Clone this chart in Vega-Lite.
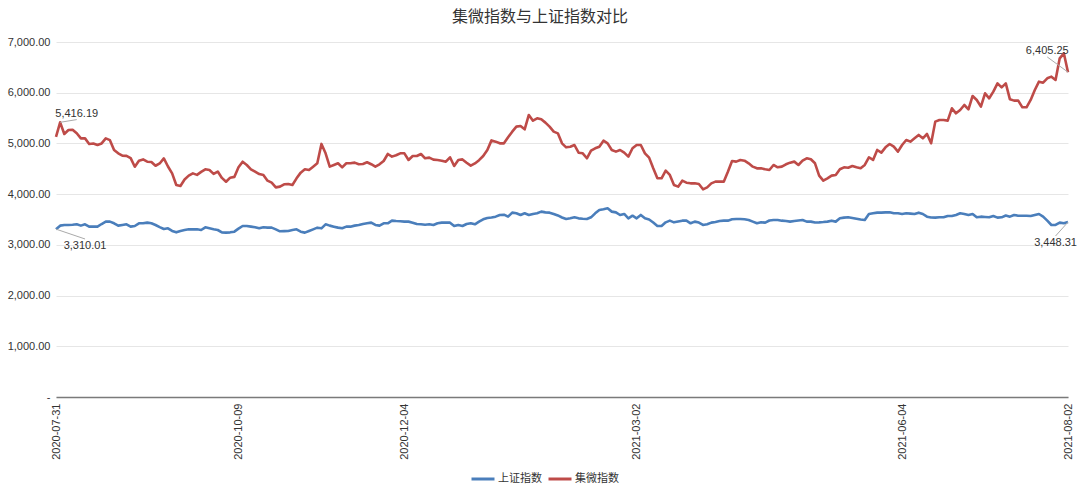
{
  "$schema": "https://vega.github.io/schema/vega-lite/v6.json",
  "width": 1012,
  "height": 355,
  "autosize": {"type": "none"},
  "padding": {"left": 56, "top": 42, "right": 12, "bottom": 96},
  "background": "white",
  "config": {"view": {"stroke": null}, "font": "Liberation Sans"},
  "title": {
    "text": "集微指数与上证指数对比",
    "font": "Noto Sans CJK SC",
    "fontSize": 16,
    "fontWeight": "normal",
    "color": "#333333",
    "anchor": "middle",
    "offset": 11,
    "dx": -22
  },
  "datasets": {
    "daily": [
      {"d": "2020-07-31", "sh": 3310.01, "jw": 5130},
      {"d": "2020-08-03", "sh": 3379, "jw": 5416.19},
      {"d": "2020-08-04", "sh": 3392, "jw": 5186},
      {"d": "2020-08-05", "sh": 3392, "jw": 5265},
      {"d": "2020-08-06", "sh": 3395, "jw": 5270},
      {"d": "2020-08-07", "sh": 3405, "jw": 5200},
      {"d": "2020-08-10", "sh": 3379, "jw": 5100},
      {"d": "2020-08-11", "sh": 3405, "jw": 5100},
      {"d": "2020-08-12", "sh": 3359, "jw": 4990},
      {"d": "2020-08-13", "sh": 3360, "jw": 5000},
      {"d": "2020-08-14", "sh": 3359, "jw": 4970},
      {"d": "2020-08-17", "sh": 3411, "jw": 5000},
      {"d": "2020-08-18", "sh": 3458, "jw": 5100},
      {"d": "2020-08-19", "sh": 3458, "jw": 5065},
      {"d": "2020-08-20", "sh": 3425, "jw": 4870},
      {"d": "2020-08-21", "sh": 3379, "jw": 4805},
      {"d": "2020-08-24", "sh": 3392, "jw": 4760},
      {"d": "2020-08-25", "sh": 3405, "jw": 4755},
      {"d": "2020-08-26", "sh": 3359, "jw": 4710},
      {"d": "2020-08-27", "sh": 3372, "jw": 4540},
      {"d": "2020-08-28", "sh": 3425, "jw": 4660},
      {"d": "2020-08-31", "sh": 3425, "jw": 4685},
      {"d": "2020-09-01", "sh": 3438, "jw": 4640},
      {"d": "2020-09-02", "sh": 3425, "jw": 4635},
      {"d": "2020-09-03", "sh": 3392, "jw": 4560},
      {"d": "2020-09-04", "sh": 3350, "jw": 4605},
      {"d": "2020-09-07", "sh": 3313, "jw": 4705},
      {"d": "2020-09-08", "sh": 3326, "jw": 4545},
      {"d": "2020-09-09", "sh": 3274, "jw": 4410},
      {"d": "2020-09-10", "sh": 3247, "jw": 4180},
      {"d": "2020-09-11", "sh": 3274, "jw": 4160},
      {"d": "2020-09-14", "sh": 3293, "jw": 4290},
      {"d": "2020-09-15", "sh": 3306, "jw": 4365},
      {"d": "2020-09-16", "sh": 3306, "jw": 4410},
      {"d": "2020-09-17", "sh": 3306, "jw": 4380},
      {"d": "2020-09-18", "sh": 3293, "jw": 4440},
      {"d": "2020-09-21", "sh": 3346, "jw": 4490},
      {"d": "2020-09-22", "sh": 3326, "jw": 4476},
      {"d": "2020-09-23", "sh": 3306, "jw": 4400},
      {"d": "2020-09-24", "sh": 3293, "jw": 4445},
      {"d": "2020-09-25", "sh": 3247, "jw": 4320},
      {"d": "2020-09-28", "sh": 3241, "jw": 4245},
      {"d": "2020-09-29", "sh": 3247, "jw": 4325},
      {"d": "2020-09-30", "sh": 3260, "jw": 4340},
      {"d": "2020-10-09", "sh": 3320, "jw": 4530},
      {"d": "2020-10-12", "sh": 3372, "jw": 4640},
      {"d": "2020-10-13", "sh": 3372, "jw": 4575},
      {"d": "2020-10-14", "sh": 3359, "jw": 4490},
      {"d": "2020-10-15", "sh": 3346, "jw": 4443},
      {"d": "2020-10-16", "sh": 3326, "jw": 4397},
      {"d": "2020-10-19", "sh": 3346, "jw": 4378},
      {"d": "2020-10-20", "sh": 3340, "jw": 4266},
      {"d": "2020-10-21", "sh": 3339, "jw": 4226},
      {"d": "2020-10-22", "sh": 3306, "jw": 4134},
      {"d": "2020-10-23", "sh": 3267, "jw": 4148},
      {"d": "2020-10-26", "sh": 3270, "jw": 4194},
      {"d": "2020-10-27", "sh": 3274, "jw": 4200},
      {"d": "2020-10-28", "sh": 3293, "jw": 4180},
      {"d": "2020-10-29", "sh": 3306, "jw": 4312},
      {"d": "2020-10-30", "sh": 3260, "jw": 4424},
      {"d": "2020-11-02", "sh": 3241, "jw": 4490},
      {"d": "2020-11-03", "sh": 3274, "jw": 4476},
      {"d": "2020-11-04", "sh": 3306, "jw": 4542},
      {"d": "2020-11-05", "sh": 3339, "jw": 4608},
      {"d": "2020-11-06", "sh": 3326, "jw": 4990},
      {"d": "2020-11-09", "sh": 3405, "jw": 4805},
      {"d": "2020-11-10", "sh": 3379, "jw": 4542},
      {"d": "2020-11-11", "sh": 3359, "jw": 4575},
      {"d": "2020-11-12", "sh": 3340, "jw": 4608},
      {"d": "2020-11-13", "sh": 3326, "jw": 4529},
      {"d": "2020-11-16", "sh": 3359, "jw": 4608},
      {"d": "2020-11-17", "sh": 3359, "jw": 4608},
      {"d": "2020-11-18", "sh": 3379, "jw": 4621},
      {"d": "2020-11-19", "sh": 3392, "jw": 4588},
      {"d": "2020-11-20", "sh": 3410, "jw": 4595},
      {"d": "2020-11-23", "sh": 3425, "jw": 4628},
      {"d": "2020-11-24", "sh": 3438, "jw": 4590},
      {"d": "2020-11-25", "sh": 3392, "jw": 4542},
      {"d": "2020-11-26", "sh": 3379, "jw": 4588},
      {"d": "2020-11-27", "sh": 3425, "jw": 4654},
      {"d": "2020-11-30", "sh": 3425, "jw": 4792},
      {"d": "2020-12-01", "sh": 3477, "jw": 4740},
      {"d": "2020-12-02", "sh": 3470, "jw": 4766},
      {"d": "2020-12-03", "sh": 3465, "jw": 4805},
      {"d": "2020-12-04", "sh": 3458, "jw": 4805},
      {"d": "2020-12-07", "sh": 3458, "jw": 4674},
      {"d": "2020-12-08", "sh": 3438, "jw": 4752},
      {"d": "2020-12-09", "sh": 3411, "jw": 4752},
      {"d": "2020-12-10", "sh": 3405, "jw": 4792},
      {"d": "2020-12-11", "sh": 3398, "jw": 4707},
      {"d": "2020-12-14", "sh": 3405, "jw": 4720},
      {"d": "2020-12-15", "sh": 3392, "jw": 4680},
      {"d": "2020-12-16", "sh": 3425, "jw": 4672},
      {"d": "2020-12-17", "sh": 3438, "jw": 4660},
      {"d": "2020-12-18", "sh": 3438, "jw": 4640},
      {"d": "2020-12-21", "sh": 3438, "jw": 4727},
      {"d": "2020-12-22", "sh": 3372, "jw": 4555},
      {"d": "2020-12-23", "sh": 3392, "jw": 4674},
      {"d": "2020-12-24", "sh": 3372, "jw": 4685},
      {"d": "2020-12-25", "sh": 3411, "jw": 4620},
      {"d": "2020-12-28", "sh": 3425, "jw": 4562},
      {"d": "2020-12-29", "sh": 3405, "jw": 4605},
      {"d": "2020-12-30", "sh": 3458, "jw": 4670},
      {"d": "2020-12-31", "sh": 3504, "jw": 4752},
      {"d": "2021-01-04", "sh": 3530, "jw": 4871},
      {"d": "2021-01-05", "sh": 3540, "jw": 5060},
      {"d": "2021-01-06", "sh": 3556, "jw": 5035},
      {"d": "2021-01-07", "sh": 3589, "jw": 5002},
      {"d": "2021-01-08", "sh": 3595, "jw": 5002},
      {"d": "2021-01-11", "sh": 3556, "jw": 5120},
      {"d": "2021-01-12", "sh": 3635, "jw": 5232},
      {"d": "2021-01-13", "sh": 3622, "jw": 5331},
      {"d": "2021-01-14", "sh": 3589, "jw": 5344},
      {"d": "2021-01-15", "sh": 3622, "jw": 5278},
      {"d": "2021-01-18", "sh": 3589, "jw": 5561},
      {"d": "2021-01-19", "sh": 3610, "jw": 5449},
      {"d": "2021-01-20", "sh": 3622, "jw": 5495},
      {"d": "2021-01-21", "sh": 3655, "jw": 5475},
      {"d": "2021-01-22", "sh": 3640, "jw": 5410},
      {"d": "2021-01-25", "sh": 3635, "jw": 5331},
      {"d": "2021-01-26", "sh": 3610, "jw": 5232},
      {"d": "2021-01-27", "sh": 3580, "jw": 5199},
      {"d": "2021-01-28", "sh": 3540, "jw": 5002},
      {"d": "2021-01-29", "sh": 3510, "jw": 4923},
      {"d": "2021-02-01", "sh": 3523, "jw": 4936},
      {"d": "2021-02-02", "sh": 3543, "jw": 4969},
      {"d": "2021-02-03", "sh": 3523, "jw": 4818},
      {"d": "2021-02-04", "sh": 3515, "jw": 4805},
      {"d": "2021-02-05", "sh": 3510, "jw": 4707},
      {"d": "2021-02-08", "sh": 3543, "jw": 4858},
      {"d": "2021-02-09", "sh": 3622, "jw": 4904},
      {"d": "2021-02-10", "sh": 3688, "jw": 4936},
      {"d": "2021-02-18", "sh": 3701, "jw": 5055},
      {"d": "2021-02-19", "sh": 3720, "jw": 5002},
      {"d": "2021-02-22", "sh": 3655, "jw": 4871},
      {"d": "2021-02-23", "sh": 3641, "jw": 4838},
      {"d": "2021-02-24", "sh": 3589, "jw": 4871},
      {"d": "2021-02-25", "sh": 3609, "jw": 4818},
      {"d": "2021-02-26", "sh": 3523, "jw": 4739},
      {"d": "2021-03-01", "sh": 3575, "jw": 4904},
      {"d": "2021-03-02", "sh": 3523, "jw": 4969},
      {"d": "2021-03-03", "sh": 3590, "jw": 4969},
      {"d": "2021-03-04", "sh": 3523, "jw": 4805},
      {"d": "2021-03-05", "sh": 3500, "jw": 4720},
      {"d": "2021-03-08", "sh": 3440, "jw": 4509},
      {"d": "2021-03-09", "sh": 3372, "jw": 4312},
      {"d": "2021-03-10", "sh": 3372, "jw": 4312},
      {"d": "2021-03-11", "sh": 3444, "jw": 4463},
      {"d": "2021-03-12", "sh": 3477, "jw": 4378},
      {"d": "2021-03-15", "sh": 3444, "jw": 4180},
      {"d": "2021-03-16", "sh": 3460, "jw": 4148},
      {"d": "2021-03-17", "sh": 3477, "jw": 4266},
      {"d": "2021-03-18", "sh": 3477, "jw": 4226},
      {"d": "2021-03-19", "sh": 3425, "jw": 4213},
      {"d": "2021-03-22", "sh": 3458, "jw": 4213},
      {"d": "2021-03-23", "sh": 3440, "jw": 4200},
      {"d": "2021-03-24", "sh": 3392, "jw": 4095},
      {"d": "2021-03-25", "sh": 3405, "jw": 4134},
      {"d": "2021-03-26", "sh": 3438, "jw": 4213},
      {"d": "2021-03-29", "sh": 3450, "jw": 4246},
      {"d": "2021-03-30", "sh": 3470, "jw": 4246},
      {"d": "2021-03-31", "sh": 3477, "jw": 4246},
      {"d": "2021-04-01", "sh": 3477, "jw": 4443},
      {"d": "2021-04-02", "sh": 3504, "jw": 4654},
      {"d": "2021-04-06", "sh": 3510, "jw": 4641},
      {"d": "2021-04-07", "sh": 3510, "jw": 4674},
      {"d": "2021-04-08", "sh": 3505, "jw": 4660},
      {"d": "2021-04-09", "sh": 3490, "jw": 4608},
      {"d": "2021-04-12", "sh": 3458, "jw": 4542},
      {"d": "2021-04-13", "sh": 3425, "jw": 4509},
      {"d": "2021-04-14", "sh": 3444, "jw": 4509},
      {"d": "2021-04-15", "sh": 3438, "jw": 4490},
      {"d": "2021-04-16", "sh": 3480, "jw": 4476},
      {"d": "2021-04-19", "sh": 3490, "jw": 4575},
      {"d": "2021-04-20", "sh": 3490, "jw": 4529},
      {"d": "2021-04-21", "sh": 3477, "jw": 4542},
      {"d": "2021-04-22", "sh": 3470, "jw": 4588},
      {"d": "2021-04-23", "sh": 3458, "jw": 4621},
      {"d": "2021-04-26", "sh": 3470, "jw": 4641},
      {"d": "2021-04-27", "sh": 3480, "jw": 4575},
      {"d": "2021-04-28", "sh": 3490, "jw": 4660},
      {"d": "2021-04-29", "sh": 3458, "jw": 4707},
      {"d": "2021-04-30", "sh": 3458, "jw": 4687},
      {"d": "2021-05-06", "sh": 3440, "jw": 4608},
      {"d": "2021-05-07", "sh": 3444, "jw": 4365},
      {"d": "2021-05-10", "sh": 3450, "jw": 4266},
      {"d": "2021-05-11", "sh": 3458, "jw": 4312},
      {"d": "2021-05-12", "sh": 3477, "jw": 4365},
      {"d": "2021-05-13", "sh": 3458, "jw": 4378},
      {"d": "2021-05-14", "sh": 3523, "jw": 4490},
      {"d": "2021-05-17", "sh": 3537, "jw": 4529},
      {"d": "2021-05-18", "sh": 3543, "jw": 4520},
      {"d": "2021-05-19", "sh": 3530, "jw": 4555},
      {"d": "2021-05-20", "sh": 3515, "jw": 4530},
      {"d": "2021-05-21", "sh": 3500, "jw": 4510},
      {"d": "2021-05-24", "sh": 3490, "jw": 4575},
      {"d": "2021-05-25", "sh": 3609, "jw": 4727},
      {"d": "2021-05-26", "sh": 3622, "jw": 4674},
      {"d": "2021-05-27", "sh": 3635, "jw": 4871},
      {"d": "2021-05-28", "sh": 3635, "jw": 4818},
      {"d": "2021-05-31", "sh": 3641, "jw": 4923},
      {"d": "2021-06-01", "sh": 3641, "jw": 4989},
      {"d": "2021-06-02", "sh": 3622, "jw": 4936},
      {"d": "2021-06-03", "sh": 3622, "jw": 4838},
      {"d": "2021-06-04", "sh": 3609, "jw": 4969},
      {"d": "2021-06-07", "sh": 3622, "jw": 5068},
      {"d": "2021-06-08", "sh": 3615, "jw": 5035},
      {"d": "2021-06-09", "sh": 3609, "jw": 5101},
      {"d": "2021-06-10", "sh": 3635, "jw": 5167},
      {"d": "2021-06-11", "sh": 3609, "jw": 5101},
      {"d": "2021-06-15", "sh": 3556, "jw": 5186},
      {"d": "2021-06-16", "sh": 3540, "jw": 5002},
      {"d": "2021-06-17", "sh": 3537, "jw": 5430},
      {"d": "2021-06-18", "sh": 3543, "jw": 5462},
      {"d": "2021-06-21", "sh": 3543, "jw": 5462},
      {"d": "2021-06-22", "sh": 3569, "jw": 5449},
      {"d": "2021-06-23", "sh": 3569, "jw": 5692},
      {"d": "2021-06-24", "sh": 3590, "jw": 5594},
      {"d": "2021-06-25", "sh": 3622, "jw": 5659},
      {"d": "2021-06-28", "sh": 3610, "jw": 5758},
      {"d": "2021-06-29", "sh": 3589, "jw": 5673},
      {"d": "2021-06-30", "sh": 3609, "jw": 5936},
      {"d": "2021-07-01", "sh": 3543, "jw": 5857},
      {"d": "2021-07-02", "sh": 3556, "jw": 5725},
      {"d": "2021-07-05", "sh": 3550, "jw": 5988},
      {"d": "2021-07-06", "sh": 3543, "jw": 5890},
      {"d": "2021-07-07", "sh": 3569, "jw": 6021},
      {"d": "2021-07-08", "sh": 3537, "jw": 6185},
      {"d": "2021-07-09", "sh": 3543, "jw": 6106},
      {"d": "2021-07-12", "sh": 3580, "jw": 6185},
      {"d": "2021-07-13", "sh": 3556, "jw": 5870},
      {"d": "2021-07-14", "sh": 3589, "jw": 5844},
      {"d": "2021-07-15", "sh": 3575, "jw": 5844},
      {"d": "2021-07-16", "sh": 3575, "jw": 5712},
      {"d": "2021-07-19", "sh": 3575, "jw": 5712},
      {"d": "2021-07-20", "sh": 3569, "jw": 5857},
      {"d": "2021-07-21", "sh": 3589, "jw": 6054},
      {"d": "2021-07-22", "sh": 3609, "jw": 6218},
      {"d": "2021-07-23", "sh": 3556, "jw": 6198},
      {"d": "2021-07-26", "sh": 3477, "jw": 6284},
      {"d": "2021-07-27", "sh": 3392, "jw": 6317},
      {"d": "2021-07-28", "sh": 3392, "jw": 6251},
      {"d": "2021-07-29", "sh": 3438, "jw": 6678},
      {"d": "2021-07-30", "sh": 3425, "jw": 6777},
      {"d": "2021-08-02", "sh": 3448.31, "jw": 6405.25}
    ],
    "notes": [
      {"d": "2020-08-03", "v": 5416.19, "d2": "2020-08-07", "v2": 5470, "label": "5,416.19", "pos": "above"},
      {"d": "2020-07-31", "v": 3310.01, "d2": "2020-08-11", "v2": 3116, "label": "3,310.01", "pos": "below"},
      {"d": "2021-08-02", "v": 6405.25, "d2": "2021-07-26", "v2": 6705, "label": "6,405.25", "pos": "above"},
      {"d": "2021-08-02", "v": 3448.31, "d2": "2021-07-28", "v2": 3175, "label": "3,448.31", "pos": "below"}
    ]
  },
  "layer": [
    {
      "data": {"name": "daily"},
      "transform": [{"fold": ["sh", "jw"], "as": ["series", "value"]}],
      "mark": {"type": "line", "strokeWidth": 2.6, "strokeJoin": "round"},
      "encoding": {
        "x": {
          "field": "d",
          "type": "ordinal",
          "scale": {"type": "point", "padding": 0},
          "axis": {
            "title": null,
            "values": ["2020-07-31", "2020-10-09", "2020-12-04", "2021-03-02", "2021-06-04", "2021-08-02"],
            "labelAngle": -90,
            "ticks": false,
            "grid": false,
            "domainColor": "#7a7a7a",
            "domainWidth": 1.5,
            "labelFontSize": 11,
            "labelColor": "#333333",
            "labelPadding": 6
          }
        },
        "y": {
          "field": "value",
          "type": "quantitative",
          "scale": {"domain": [0, 7000], "nice": false},
          "axis": {
            "title": null,
            "values": [0, 1000, 2000, 3000, 4000, 5000, 6000, 7000],
            "labelExpr": "datum.value == 0 ? '-' : format(datum.value, ',.2f')",
            "domain": false,
            "ticks": false,
            "gridColor": "#e6e6e6",
            "labelFontSize": 11,
            "labelColor": "#333333",
            "labelPadding": 6
          }
        },
        "color": {
          "field": "series",
          "type": "nominal",
          "scale": {"domain": ["sh", "jw"], "range": ["#4a7ebb", "#be4b48"]},
          "legend": {
            "title": null,
            "orient": "none",
            "legendX": 414,
            "legendY": 424,
            "direction": "horizontal",
            "symbolType": "stroke",
            "symbolStrokeWidth": 3,
            "symbolSize": 529,
            "labelFont": "Noto Sans CJK SC",
            "labelFontSize": 11,
            "labelColor": "#333333",
            "labelOffset": 2,
            "columnPadding": 0,
            "labelExpr": "datum.label == 'sh' ? '上证指数' : '集微指数'"
          }
        }
      }
    },
    {
      "data": {"name": "notes"},
      "mark": {"type": "rule", "color": "#aaaaaa", "strokeWidth": 1},
      "encoding": {
        "x": {"field": "d", "type": "ordinal", "axis": {"title": null}},
        "x2": {"field": "d2"},
        "y": {"field": "v", "type": "quantitative", "axis": {"title": null}},
        "y2": {"field": "v2"}
      }
    },
    {
      "data": {"name": "notes"},
      "transform": [{"filter": "datum.pos == 'above'"}],
      "mark": {"type": "text", "baseline": "bottom", "align": "center", "dy": -1, "fontSize": 11, "color": "#333333"},
      "encoding": {
        "x": {"field": "d2", "type": "ordinal", "axis": {"title": null}},
        "y": {"field": "v2", "type": "quantitative", "axis": {"title": null}},
        "text": {"field": "label"}
      }
    },
    {
      "data": {"name": "notes"},
      "transform": [{"filter": "datum.pos == 'below'"}],
      "mark": {"type": "text", "baseline": "top", "align": "center", "dy": 1, "fontSize": 11, "color": "#333333"},
      "encoding": {
        "x": {"field": "d2", "type": "ordinal", "axis": {"title": null}},
        "y": {"field": "v2", "type": "quantitative", "axis": {"title": null}},
        "text": {"field": "label"}
      }
    }
  ]
}
